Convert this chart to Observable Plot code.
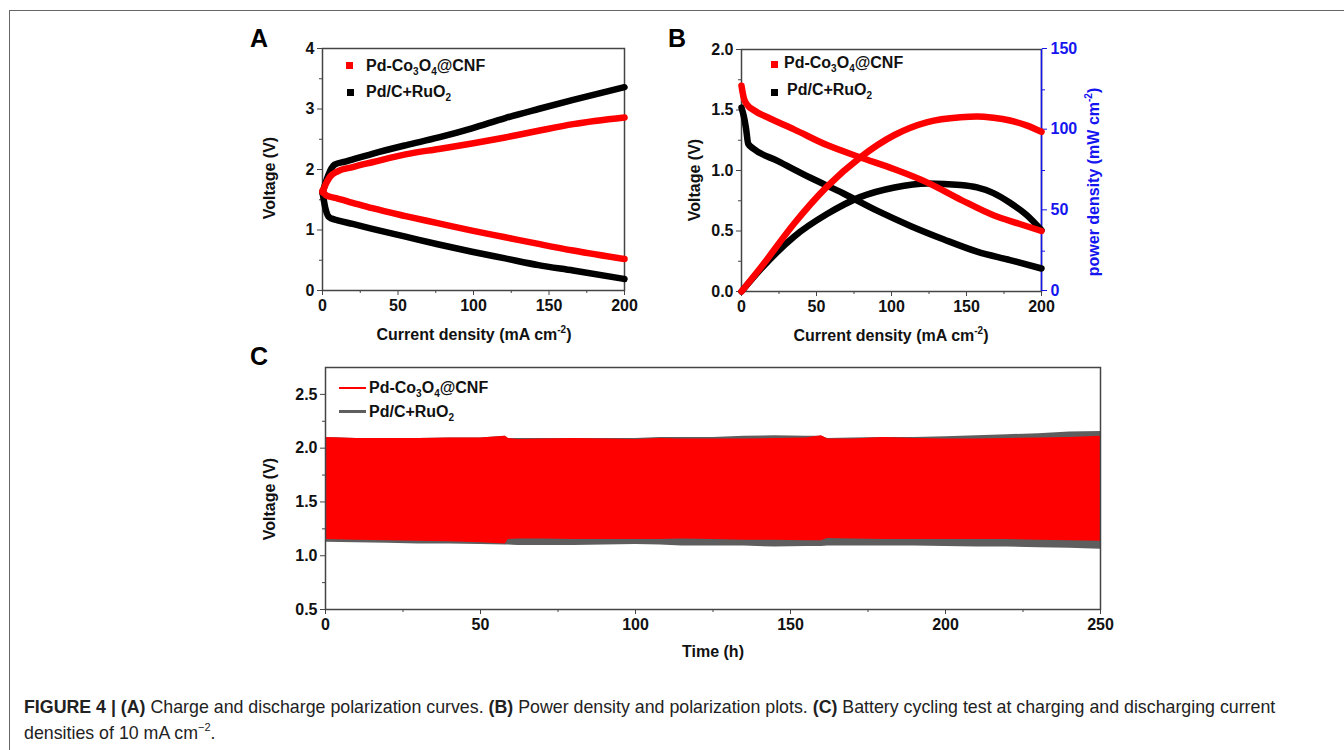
<!DOCTYPE html>
<html><head><meta charset="utf-8">
<script src="https://cdn.jsdelivr.net/npm/d3@7"></script>
<script src="https://cdn.jsdelivr.net/npm/@observablehq/plot@0.6"></script>
<style>
body{margin:0;background:#fff;}
#root{position:relative;width:1344px;height:750px;overflow:hidden;font-family:"Liberation Sans",Arial,sans-serif;background:#fff;}
.lbl{position:absolute;font-weight:bold;font-size:16px;color:#111;white-space:nowrap;transform:translate(-50%,-50%);line-height:1;}
.rot{transform:translate(-50%,-50%) rotate(-90deg);}
.letter{position:absolute;font-weight:bold;font-size:25px;color:#000;line-height:1;}
.leg{position:absolute;font-weight:bold;font-size:16px;color:#111;white-space:nowrap;line-height:1;transform:translateY(-50%);}
.sq{position:absolute;width:7px;height:7px;}
.ln{position:absolute;height:2px;width:27px;}
sub{font-size:10px;vertical-align:-4px;line-height:0;}
sup{font-size:10px;vertical-align:7px;line-height:0;}
#frameTop{position:absolute;left:9px;top:10px;width:1335px;height:0;border-top:1.5px solid #666;}
#frameLeft{position:absolute;left:9px;top:10px;width:0;height:740px;border-left:1.5px solid #666;}
#caption{position:absolute;left:24px;top:694px;font-size:17.8px;line-height:26px;color:#222;width:1310px;white-space:nowrap;}
#caption sup{font-size:11px;vertical-align:8px;}
</style></head>
<body><div id="root">
<div id="frameTop"></div><div id="frameLeft"></div>
</div>
<script>
// ---------- Panel A: charge / discharge polarization ----------
const aChargeRedX = [0,2,5,10,20,33,55,77,99,121,143,166,200];
const aChargeRedY = [1.62,1.75,1.88,1.97,2.04,2.12,2.25,2.34,2.43,2.53,2.64,2.75,2.86];
const aChargeBlackX = [0,3,6,8,15,33,55,77,99,121,143,166,200];
const aChargeBlackY = [1.62,1.85,2.02,2.08,2.13,2.26,2.40,2.53,2.68,2.85,3.00,3.15,3.36];
const aDisRedX = [0,2,5,10,20,33,55,77,99,121,143,166,200];
const aDisRedY = [1.65,1.58,1.55,1.52,1.45,1.36,1.23,1.11,0.99,0.88,0.77,0.66,0.52];
const aDisBlackX = [0,2,4,6,10,20,33,55,77,99,121,143,166,200];
const aDisBlackY = [1.62,1.35,1.22,1.19,1.16,1.10,1.02,0.89,0.76,0.64,0.53,0.42,0.33,0.19];
const aXTicks = [0,50,100,150,200], aXMinor = [25,75,125,175];
const aYTicks = [0,1,2,3,4], aYMinor = [0.5,1.5,2.5,3.5];

// ---------- Panel B: polarization & power density ----------
const bVRedX = [0,1.5,4,8,19,35,57,79,102,124,146,168,185,200];
const bVRedY = [1.70,1.60,1.54,1.50,1.43,1.34,1.21,1.11,1.01,0.90,0.76,0.63,0.56,0.50];
const bVBlackX = [0,1.5,3,4.5,8,24,46,68,90,113,135,157,179,200];
const bVBlackY = [1.52,1.45,1.35,1.22,1.18,1.08,0.94,0.81,0.67,0.54,0.43,0.33,0.26,0.19];
const bPRedX = [0,13,35,57,79,102,124,146,157,168,179,190,200];
const bPRedY = [0,15,42,65,83,97,105,108,108.5,107.7,106,103,99];
const bPBlackX = [0,13,35,57,79,102,124,146,157,168,179,190,200];
const bPBlackY = [0,14,34,48,58.5,64.5,67,66,64.5,61,55,47.5,38];
const bXTicks = [0,50,100,150,200], bXMinor = [25,75,125,175];
const bYTicks = [0,0.5,1.0,1.5,2.0], bYMinor = [0.25,0.75,1.25,1.75];
const bPTicks = [0,50,100,150], bPMinor = [25,75,125];

// ---------- Panel C: cycling envelopes ----------
const cT =      [0,10,20,30,40,50,58,59,62,70,80,90,100,108,115,125,135,145,155,160,162,170,180,190,200,210,220,230,240,250];
const cRedTop = [2.10,2.09,2.09,2.09,2.095,2.095,2.11,2.09,2.08,2.085,2.09,2.085,2.08,2.09,2.085,2.085,2.085,2.09,2.095,2.115,2.085,2.085,2.10,2.09,2.085,2.085,2.09,2.095,2.10,2.11];
const cRedBot = [1.15,1.145,1.14,1.135,1.13,1.12,1.11,1.15,1.155,1.155,1.15,1.15,1.15,1.15,1.155,1.15,1.145,1.145,1.14,1.14,1.16,1.155,1.15,1.15,1.15,1.15,1.15,1.145,1.14,1.135];
const cGrayTop= [2.10,2.09,2.09,2.09,2.095,2.095,2.11,2.09,2.09,2.09,2.09,2.09,2.09,2.10,2.10,2.10,2.11,2.115,2.11,2.11,2.09,2.095,2.10,2.10,2.105,2.115,2.125,2.135,2.15,2.155];
const cGrayBot= [1.125,1.12,1.115,1.11,1.11,1.105,1.10,1.10,1.095,1.095,1.095,1.10,1.105,1.10,1.09,1.09,1.09,1.08,1.085,1.085,1.09,1.09,1.09,1.09,1.085,1.08,1.08,1.075,1.07,1.06];
const cXTicks = [0,50,100,150,200,250], cXMinor = [25,75,125,175,225];
const cYTicks = [0.5,1.0,1.5,2.0,2.5], cYMinor = [0.75,1.25,1.75,2.25];

const RED = "#ff0000", BLACK = "#000", GRAY = "#5e5e5e", BLUE = "#1515f0", AX = "#444";
const root = document.getElementById("root");
const zip = (xs, ys) => xs.map((x, i) => ({x, y: ys[i]}));
const fmt1 = d => d.toFixed(1);
const FS = 16;

function place(svg, left, top) {
  svg.style.position = "absolute";
  svg.style.left = left + "px";
  svg.style.top = top + "px";
  root.appendChild(svg);
}
function axes(xT, xM, yT, yM, yFmt) {
  return [
    Plot.axisX({ticks: xT, tickSize: 5, tickPadding: 4, label: null, stroke: AX, fill: "#111", fontSize: FS, fontWeight: "bold"}),
    Plot.axisX({ticks: xM, tickSize: 3, tickFormat: () => "", label: null, stroke: AX}),
    Plot.axisY({ticks: yT, tickSize: 5, tickPadding: 3, label: null, stroke: AX, fill: "#111", tickFormat: yFmt, fontSize: FS, fontWeight: "bold"}),
    Plot.axisY({ticks: yM, tickSize: 3, tickFormat: () => "", label: null, stroke: AX})
  ];
}
const baseStyle = {fontFamily: "'Liberation Sans', Arial, sans-serif", fontSize: "16px", fontWeight: "bold", background: "transparent", overflow: "visible"};

// Panel A
place(Plot.plot({
  width: 420, height: 330, marginLeft: 82, marginRight: 36, marginTop: 28, marginBottom: 60,
  x: {domain: [0, 200]}, y: {domain: [0, 4]},
  style: baseStyle,
  marks: [
    Plot.frame({stroke: AX, strokeWidth: 1.5}),
    ...axes(aXTicks, aXMinor, aYTicks, aYMinor, d => d),
    Plot.line(zip(aChargeBlackX, aChargeBlackY), {x: "x", y: "y", stroke: BLACK, strokeWidth: 6.5, curve: "monotone-x"}),
    Plot.line(zip(aDisBlackX, aDisBlackY), {x: "x", y: "y", stroke: BLACK, strokeWidth: 6.5, curve: "monotone-x"}),
    Plot.line(zip(aChargeRedX, aChargeRedY), {x: "x", y: "y", stroke: RED, strokeWidth: 6.5, curve: "monotone-x"}),
    Plot.line(zip(aDisRedX, aDisRedY), {x: "x", y: "y", stroke: RED, strokeWidth: 6.5, curve: "monotone-x"})
  ]
}), 240, 20);

// Panel B (power mapped onto the voltage scale: 150 mW cm-2 ↔ 2.0 V)
const pScale = p => p * 2 / 150;
place(Plot.plot({
  width: 460, height: 330, marginLeft: 81, marginRight: 79, marginTop: 29, marginBottom: 59,
  x: {domain: [0, 200]}, y: {domain: [0, 2]},
  style: baseStyle,
  marks: [
    Plot.frame({stroke: AX, strokeWidth: 1.5}),
    ...axes(bXTicks, bXMinor, bYTicks, bYMinor, fmt1),
    Plot.ruleX([200], {stroke: BLUE, strokeWidth: 1.5}),
    Plot.axisY({anchor: "right", ticks: bPTicks.map(pScale), tickSize: 5, tickPadding: 4, label: null, stroke: BLUE, fill: BLUE, fontSize: FS, fontWeight: "bold", textAnchor: "start", dy: -1, tickFormat: v => Math.round(v * 75)}),
    Plot.axisY({anchor: "right", ticks: bPMinor.map(pScale), tickSize: 3, tickFormat: () => "", label: null, stroke: BLUE}),
    Plot.line(zip(bVBlackX, bVBlackY), {x: "x", y: "y", stroke: BLACK, strokeWidth: 6.5, curve: "monotone-x"}),
    Plot.line(zip(bPBlackX, bPBlackY), {x: "x", y: d => pScale(d.y), stroke: BLACK, strokeWidth: 6.5, curve: "monotone-x"}),
    Plot.line(zip(bVRedX, bVRedY), {x: "x", y: "y", stroke: RED, strokeWidth: 6.5, curve: "monotone-x"}),
    Plot.line(zip(bPRedX, bPRedY), {x: "x", y: d => pScale(d.y), stroke: RED, strokeWidth: 6.5, curve: "monotone-x"})
  ]
}), 660, 20);

// Panel C
const cData = cT.map((t, i) => ({t, rt: cRedTop[i], rb: cRedBot[i], gt: cGrayTop[i], gb: cGrayBot[i]}));
place(Plot.plot({
  width: 880, height: 320, marginLeft: 85, marginRight: 20, marginTop: 17, marginBottom: 61,
  x: {domain: [0, 250]}, y: {domain: [0.5, 2.75]},
  style: baseStyle,
  marks: [
    Plot.areaY(cData, {x: "t", y1: "gb", y2: "gt", fill: GRAY, curve: "linear"}),
    Plot.areaY(cData, {x: "t", y1: "rb", y2: "rt", fill: RED, curve: "linear"}),
    Plot.frame({stroke: AX, strokeWidth: 1.5}),
    ...axes(cXTicks, cXMinor, cYTicks, cYMinor, fmt1)
  ]
}), 240, 350);

// ---------- HTML text: letters, labels, legends, caption ----------
const html = `
<div class="letter" style="left:250px;top:26px">A</div>
<div class="letter" style="left:668px;top:26px">B</div>
<div class="letter" style="left:250px;top:344px">C</div>

<div class="lbl rot" style="left:270px;top:178px">Voltage (V)</div>
<div class="lbl" style="left:474px;top:335px">Current density (mA cm<sup>-2</sup>)</div>
<div class="lbl rot" style="left:695px;top:180px">Voltage (V)</div>
<div class="lbl" style="left:891px;top:336px">Current density (mA cm<sup>-2</sup>)</div>
<div class="lbl rot" style="left:1094px;top:182px;color:${BLUE}">power density (mW cm<sup>-2</sup>)</div>
<div class="lbl rot" style="left:270px;top:499px">Voltage (V)</div>
<div class="lbl" style="left:713px;top:652px">Time (h)</div>

<div class="sq" style="left:346px;top:62px;background:${RED}"></div>
<div class="leg" style="left:366px;top:66px">Pd-Co<sub>3</sub>O<sub>4</sub>@CNF</div>
<div class="sq" style="left:347px;top:89px;background:${BLACK}"></div>
<div class="leg" style="left:366px;top:92px">Pd/C+RuO<sub>2</sub></div>

<div class="sq" style="left:771px;top:61px;background:${RED}"></div>
<div class="leg" style="left:784px;top:63px">Pd-Co<sub>3</sub>O<sub>4</sub>@CNF</div>
<div class="sq" style="left:771px;top:89px;background:${BLACK}"></div>
<div class="leg" style="left:787px;top:90px">Pd/C+RuO<sub>2</sub></div>

<div class="ln" style="left:339px;top:387px;background:${RED}"></div>
<div class="leg" style="left:369px;top:388px">Pd-Co<sub>3</sub>O<sub>4</sub>@CNF</div>
<div class="ln" style="left:339px;top:410px;height:3px;background:${GRAY}"></div>
<div class="leg" style="left:369px;top:412px">Pd/C+RuO<sub>2</sub></div>

<div id="caption"><b>FIGURE 4 | (A)</b> Charge and discharge polarization curves. <b>(B)</b> Power density and polarization plots. <b>(C)</b> Battery cycling test at charging and discharging current<br>densities of 10 mA cm<sup>−2</sup>.</div>
`;
root.insertAdjacentHTML("beforeend", html);
</script>
</body></html>
